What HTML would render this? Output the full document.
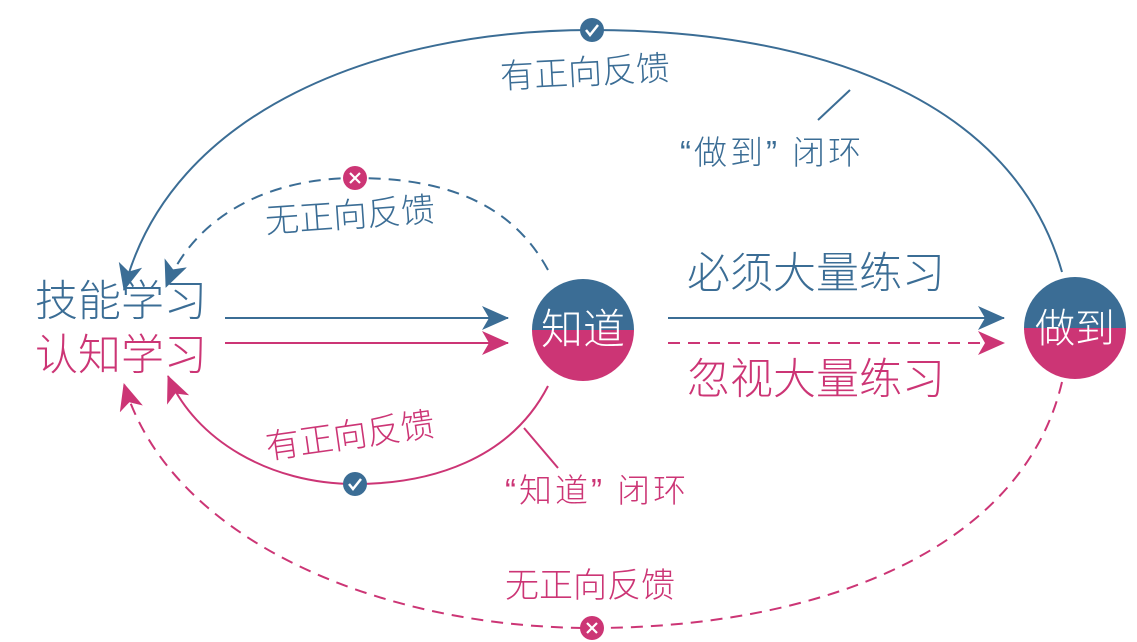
<!DOCTYPE html>
<html><head><meta charset="utf-8"><style>
html,body{margin:0;padding:0;background:#fff;width:1137px;height:642px;overflow:hidden}
svg{display:block}
text{font-family:"Liberation Sans","Noto Sans CJK SC",sans-serif;font-weight:300}
</style></head><body>
<svg width="1137" height="642" viewBox="0 0 1137 642" xmlns="http://www.w3.org/2000/svg">
<defs>
<clipPath id="c1"><circle cx="583" cy="330" r="51"/></clipPath>
<clipPath id="c2"><circle cx="1075" cy="328" r="51"/></clipPath>
<marker id="ab" markerUnits="userSpaceOnUse" markerWidth="30" markerHeight="26" refX="26" refY="12" orient="auto"><path d="M0,0 L27,12 L0,24 L7,12Z" fill="#3b6d95"/></marker>
<marker id="ap" markerUnits="userSpaceOnUse" markerWidth="30" markerHeight="26" refX="26" refY="12" orient="auto"><path d="M0,0 L27,12 L0,24 L7,12Z" fill="#cc3575"/></marker>
</defs>
<g fill="none" stroke-width="2">
<path d="M1062,272 C1010,90 800,30 592,30 C380,30 170,110 124,290" stroke="#3b6d95" marker-end="url(#ab)"/>
<path d="M548,270 C510,200 440,178 355,178 C270,178 195,215 166,287" stroke="#3b6d95" stroke-dasharray="12,8" marker-end="url(#ab)"/>
<path d="M548,386 C510,460 430,484 355,484 C270,484 195,440 168,376" stroke="#cc3575" marker-end="url(#ap)"/>
<path d="M1062,382 C1020,560 800,628 592,628 C380,628 170,540 124,384" stroke="#cc3575" stroke-dasharray="12,8" marker-end="url(#ap)"/>
<line x1="225" y1="318" x2="508" y2="318" stroke="#3b6d95" marker-end="url(#ab)"/>
<line x1="225" y1="343" x2="508" y2="343" stroke="#cc3575" marker-end="url(#ap)"/>
<line x1="668" y1="318" x2="1004" y2="318" stroke="#3b6d95" marker-end="url(#ab)"/>
<line x1="668" y1="343" x2="1004" y2="343" stroke="#cc3575" stroke-dasharray="12,8" marker-end="url(#ap)"/>
<line x1="818" y1="120" x2="850" y2="90" stroke="#3b6d95"/>
<line x1="524" y1="428" x2="558" y2="468" stroke="#cc3575"/>
</g>
<circle cx="592" cy="30" r="12" fill="#3b6d95"/>
<path d="M586,30 L590,35 L598,25" stroke="#fff" stroke-width="2.5" fill="none"/>
<circle cx="355" cy="484" r="12" fill="#3b6d95"/>
<path d="M349,484 L353,489 L361,479" stroke="#fff" stroke-width="2.5" fill="none"/>
<circle cx="355" cy="178" r="12" fill="#cc3575"/>
<path d="M350,173 L360,183 M360,173 L350,183" stroke="#fff" stroke-width="2.2"/>
<circle cx="592" cy="628" r="12" fill="#cc3575"/>
<path d="M587,623 L597,633 M597,623 L587,633" stroke="#fff" stroke-width="2.2"/>
<g clip-path="url(#c1)"><rect x="520" y="270" width="130" height="60" fill="#3b6d95"/><rect x="520" y="330" width="130" height="60" fill="#cc3575"/></g>
<g clip-path="url(#c2)"><rect x="1015" y="270" width="130" height="60" fill="#3b6d95"/><rect x="1015" y="328" width="130" height="60" fill="#cc3575"/></g>
<text x="583" y="344" font-size="42" fill="#fff" text-anchor="middle">知道</text>
<text x="1075" y="342" font-size="40" fill="#fff" text-anchor="middle">做到</text>
<text x="35" y="316" font-size="43" fill="#3b6d95">技能学习</text>
<text x="35" y="370" font-size="43" fill="#cc3575">认知学习</text>
<text x="687" y="288" font-size="43" fill="#3b6d95">必须大量练习</text>
<text x="687" y="394" font-size="43" fill="#cc3575">忽视大量练习</text>
<text x="500" y="84" font-size="34" fill="#3b6d95" transform="rotate(-3 585 72)">有正向反馈</text>
<text x="265" y="227" font-size="34" fill="#3b6d95" transform="rotate(-4 350 215)">无正向反馈</text>
<text x="265" y="447" font-size="34" fill="#cc3575" transform="rotate(-8 352 435)">有正向反馈</text>
<text x="505" y="597" font-size="34" fill="#cc3575">无正向反馈</text>
<text x="680" y="164" font-size="33" fill="#3b6d95" letter-spacing="3">“做到” 闭环</text>
<text x="505" y="502" font-size="33" fill="#cc3575" letter-spacing="3">“知道” 闭环</text>
</svg>
</body></html>
